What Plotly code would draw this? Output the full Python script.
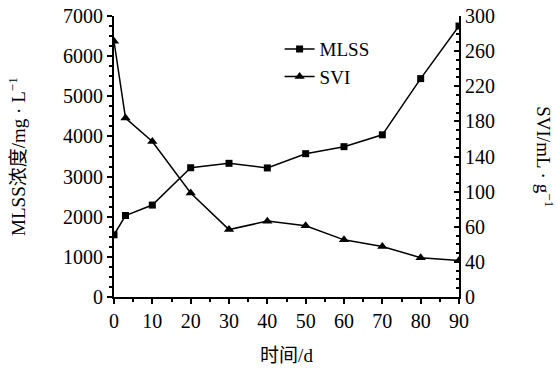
import plotly.graph_objects as go

days = [0, 3, 10, 20, 30, 40, 50, 60, 70, 80, 90]
mlss = [1550, 2030, 2290, 3220, 3330, 3215, 3570, 3745, 4040, 5440, 6750]
svi = [273, 191, 166, 111, 72, 81, 76, 61, 54, 42, 39]

x_ticks = [0, 10, 20, 30, 40, 50, 60, 70, 80, 90]
left_ticks = [0, 1000, 2000, 3000, 4000, 5000, 6000, 7000]
right_tickvals = [0, 37.5, 75, 112.5, 150, 187.5, 225, 262.5, 300]
right_ticktext = ["0", "40", "60", "100", "140", "180", "220", "260", "300"]

FONT = "Liberation Serif, Times New Roman, Noto Sans CJK SC, serif"

fig = go.Figure()
fig.add_trace(go.Scatter(
    x=days, y=mlss, name="MLSS", mode="lines+markers",
    line=dict(color="black", width=1.5),
    marker=dict(symbol="square", size=7, color="black"),
    yaxis="y"))
fig.add_trace(go.Scatter(
    x=days, y=svi, name="SVI", mode="lines+markers",
    line=dict(color="black", width=1.5),
    marker=dict(symbol="triangle-up", size=9, color="black"),
    yaxis="y2"))

axis_common = dict(showgrid=False, zeroline=False, showline=True,
                   linecolor="black", linewidth=2, automargin=False,
                   tickfont=dict(family=FONT, size=20, color="black"),
                   tickcolor="black", tickwidth=1.5)

fig.update_layout(
    width=557, height=368,
    margin=dict(l=114, r=98, t=16, b=71),
    paper_bgcolor="white", plot_bgcolor="white",
    font=dict(family=FONT, color="black"),
    showlegend=True,
    legend=dict(x=0.48, y=0.95, xanchor="left", yanchor="top",
                bgcolor="rgba(0,0,0,0)", font=dict(family=FONT, size=19, color="black"),
                tracegroupgap=0, itemwidth=30),
    xaxis=dict(range=[0, 90], tickvals=x_ticks, ticks="outside", ticklen=5,
               minor=dict(dtick=5, ticklen=3, ticks="outside", tickcolor="black"),
               title=dict(text="时间/d", font=dict(family=FONT, size=19), standoff=18),
               **axis_common),
    yaxis=dict(range=[0, 7000], tickvals=left_ticks, ticks="outside", ticklen=5,
               minor=dict(dtick=250, ticklen=3, ticks="outside", tickcolor="black"),
               title=dict(text="MLSS浓度/mg · L<sup>−1</sup>", font=dict(family=FONT, size=19), standoff=32),
               **axis_common),
    yaxis2=dict(range=[0, 300], overlaying="y", side="right",
                tickvals=right_tickvals, ticktext=right_ticktext,
                ticks="inside", ticklen=5,
                minor=dict(tickvals=[v + 9.375 * k for v in right_tickvals[:-1] for k in (1, 2, 3)],
                           ticklen=3, ticks="inside", tickcolor="black"),
                **axis_common),
)

fig.add_annotation(text="SVI/mL · g<sup>−1</sup>", xref="paper", yref="paper",
                   x=1.25, y=0.5, xanchor="center", yanchor="middle",
                   textangle=90, showarrow=False,
                   font=dict(family=FONT, size=19, color="black"))

fig.write_html("out.html")
